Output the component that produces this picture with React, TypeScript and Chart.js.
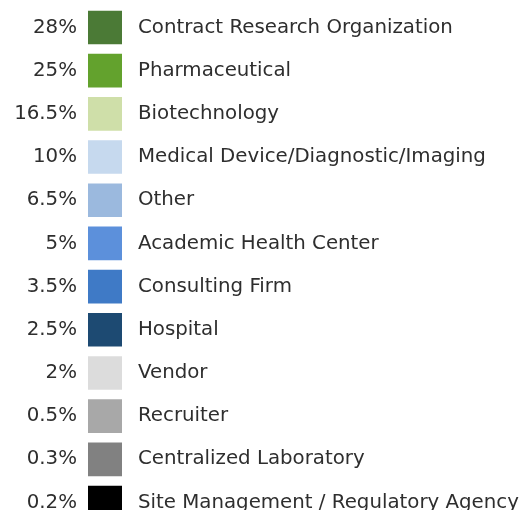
import React, { useEffect, useRef } from "react";
import { Chart, registerables } from "chart.js";

Chart.register(...registerables);

const categories = [
  "Contract Research Organization",
  "Pharmaceutical",
  "Biotechnology",
  "Medical Device/Diagnostic/Imaging",
  "Other",
  "Academic Health Center",
  "Consulting Firm",
  "Hospital",
  "Vendor",
  "Recruiter",
  "Centralized Laboratory",
  "Site Management / Regulatory Agency",
];

const shares = [28, 25, 16.5, 10, 6.5, 5, 3.5, 2.5, 2, 0.5, 0.3, 0.2];

const swatchColors = [
  "#4b7a36",
  "#63a22d",
  "#cfdfa9",
  "#c6d9ee",
  "#9bb9de",
  "#5c90db",
  "#3f7ac6",
  "#1d4a72",
  "#dcdcdc",
  "#a8a8a8",
  "#818181",
  "#000000",
];

const FONT = { family: "'DejaVu Sans', Verdana, sans-serif", size: 19.8 };
const TEXT = "#2e2e2e";

export default function App() {
  const ref = useRef<HTMLCanvasElement | null>(null);

  useEffect(() => {
    if (!ref.current) return;
    const chart = new Chart(ref.current, {
      type: "bar",
      data: {
        labels: categories,
        datasets: [
          {
            label: "Share",
            data: shares.map(() => [0, 1]) as any,
            backgroundColor: swatchColors,
            borderWidth: 0,
            barThickness: 33,
          },
        ],
      },
      options: {
        indexAxis: "y",
        animation: false,
        responsive: false,
        devicePixelRatio: 1,
        layout: { padding: { top: 5, bottom: 8, left: 0, right: 0 } },
        plugins: { legend: { display: false }, tooltip: { enabled: false } },
        scales: {
          x: { display: false, min: 0, max: 1 },
          y: {
            type: "category",
            position: "left",
            offset: true,
            grid: { display: false, drawTicks: false },
            border: { display: false },
            ticks: {
              autoSkip: false,
              padding: 11,
              color: TEXT,
              font: FONT,
              callback: (_v: any, i: number) => shares[i] + "%",
            },
            afterFit: (s: any) => {
              s.width = 88;
            },
          },
          y2: {
            type: "category",
            position: "right",
            offset: true,
            grid: { display: false, drawTicks: false },
            border: { display: false },
            ticks: {
              autoSkip: false,
              padding: 16,
              color: TEXT,
              font: FONT,
              callback: (_v: any, i: number) => categories[i],
            },
            afterFit: (s: any) => {
              s.width = 404;
            },
          },
        },
      },
    });
    return () => chart.destroy();
  }, []);

  return (
    <div
      style={{
        position: "absolute",
        left: 0,
        top: 0,
        width: 526,
        height: 510,
        overflow: "hidden",
        background: "#fff",
      }}
    >
      <canvas
        ref={ref}
        width={526}
        height={574}
        style={{ display: "block", position: "absolute", left: 0, top: -22 }}
      />
    </div>
  );
}
